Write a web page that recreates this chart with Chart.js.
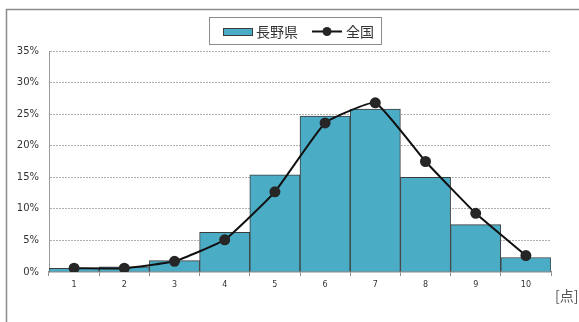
<!DOCTYPE html>
<html>
<head>
<meta charset="utf-8">
<script src="https://cdn.jsdelivr.net/npm/chart.js@4/dist/chart.umd.min.js"></script>
<style>
  html, body { margin: 0; padding: 0; background: #fff; }
  #wrap { width: 579px; height: 322px; position: relative; }
</style>
</head>
<body>
<div id="wrap"><canvas id="c" width="579" height="322"></canvas></div>
<script>
// Score categories (points)
const categories = ['1', '2', '3', '4', '5', '6', '7', '8', '9', '10'];
// Share of students per score, Nagano prefecture (%)
const naganoValues = [0.6, 0.8, 1.8, 6.3, 15.4, 24.7, 25.8, 15.0, 7.5, 2.3];
// Share of students per score, nationwide (%)
const nationalValues = [0.6, 0.6, 1.7, 5.1, 12.7, 23.6, 26.8, 17.5, 9.3, 2.6];
const seriesLabels = ['長野県', '全国'];
const yTicks = [0, 5, 10, 15, 20, 25, 30, 35];
const unitLabel = '[点]';

const barFill = '#4bacc6';
const barEdge = '#3c3c3c';
const lineColor = '#111111';
const pointColor = '#262626';
const textColor = '#333333';
const cjkFont = '"Noto Sans CJK JP", "DejaVu Sans", sans-serif';

// Outer frame, custom legend box and unit label
const decorations = {
  id: 'decorations',
  beforeDraw(chart) {
    const ctx = chart.ctx;
    ctx.save();
    ctx.fillStyle = '#fff';
    ctx.fillRect(0, 0, chart.width, chart.height);
    ctx.strokeStyle = '#8c8c8c';
    ctx.lineWidth = 1.5;
    ctx.beginPath();
    ctx.moveTo(6.5, chart.height);
    ctx.lineTo(6.5, 9.5);
    ctx.lineTo(chart.width, 9.5);
    ctx.stroke();
    ctx.restore();
  },
  afterDraw(chart) {
    const ctx = chart.ctx;
    ctx.save();
    // legend box
    ctx.strokeStyle = '#8c8c8c';
    ctx.lineWidth = 1;
    ctx.strokeRect(209.5, 17.5, 172, 27);
    // bar swatch
    ctx.fillStyle = barFill;
    ctx.fillRect(223, 28, 30, 8);
    ctx.strokeStyle = barEdge;
    ctx.strokeRect(223.5, 28.5, 29, 7);
    ctx.font = '14px ' + cjkFont;
    ctx.fillStyle = textColor;
    ctx.textBaseline = 'middle';
    ctx.textAlign = 'left';
    ctx.fillText(seriesLabels[0], 256, 31.5);
    // line swatch
    ctx.strokeStyle = lineColor;
    ctx.lineWidth = 2;
    ctx.beginPath();
    ctx.moveTo(312, 31.5);
    ctx.lineTo(342, 31.5);
    ctx.stroke();
    ctx.fillStyle = pointColor;
    ctx.beginPath();
    ctx.arc(327, 31.5, 4.5, 0, Math.PI * 2);
    ctx.fill();
    ctx.fillStyle = textColor;
    ctx.fillText(seriesLabels[1], 346, 31.5);
    // unit label
    ctx.font = '14px ' + cjkFont;
    ctx.fillStyle = '#555';
    ctx.fillText(unitLabel, 555, 296);
    ctx.restore();
  }
};

new Chart(document.getElementById('c'), {
  data: {
    labels: categories,
    datasets: [
      {
        type: 'line',
        label: seriesLabels[1],
        data: nationalValues,
        borderColor: lineColor,
        borderWidth: 2,
        backgroundColor: pointColor,
        pointBackgroundColor: pointColor,
        pointBorderColor: pointColor,
        pointRadius: 4.5,
        tension: 0.12,
        order: 0
      },
      {
        type: 'bar',
        label: seriesLabels[0],
        data: naganoValues,
        backgroundColor: barFill,
        borderColor: barEdge,
        borderWidth: 1,
        categoryPercentage: 1.0,
        barPercentage: 1.0,
        order: 1
      }
    ]
  },
  options: {
    responsive: false,
    animation: false,
    layout: { padding: { left: 0, right: 28, top: 51, bottom: 0 } },
    plugins: {
      legend: { display: false },
      tooltip: { enabled: false }
    },
    scales: {
      x: {
        offset: true,
        grid: {
          offset: true,
          drawOnChartArea: false,
          drawTicks: true,
          tickLength: 4,
          color: '#8c8c8c'
        },
        border: { display: true, color: '#8c8c8c', width: 1.5 },
        ticks: {
          color: textColor,
          font: { family: 'DejaVu Sans', size: 8 },
          padding: 4,
          maxRotation: 0
        },
        afterFit(scale) { scale.height = 50; }
      },
      y: {
        min: 0,
        max: 35,
        afterBuildTicks(scale) { scale.ticks = yTicks.map(v => ({ value: v })); },
        grid: {
          color: (ctx) => ctx.tick && ctx.tick.value === 0 ? 'rgba(0,0,0,0)' : '#b0b0b0',
          lineWidth: 1,
          drawTicks: false
        },
        border: { display: true, color: '#999999', width: 1, dash: [2, 1] },
        ticks: {
          color: textColor,
          font: { family: 'DejaVu Sans', size: 10 },
          padding: 10,
          callback: (v) => v + '%'
        },
        afterFit(scale) { scale.width = 49; }
      }
    }
  },
  plugins: [decorations]
});
</script>
</body>
</html>
